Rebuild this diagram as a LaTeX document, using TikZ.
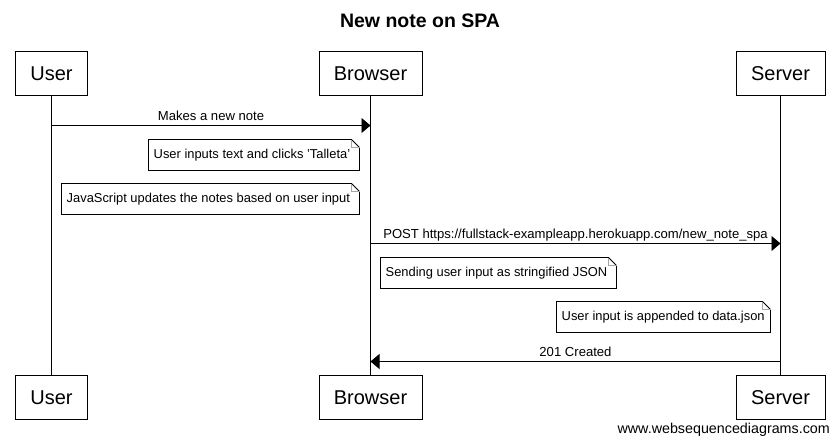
\documentclass[tikz,border=0pt]{standalone}
\usepackage{fontspec}
\setmainfont{Liberation Sans}
\usetikzlibrary{arrows.meta,calc}
\begin{document}
\begin{tikzpicture}[x=1pt,y=-1pt,
  actor/.style={draw,line width=0.9pt,minimum height=44pt,inner sep=0pt,font=\fontsize{20}{22}\selectfont},
  msg/.style={line width=0.9pt,-{Triangle[length=9pt,width=15pt]}},
  lbl/.style={font=\fontsize{13.1}{15}\selectfont,inner sep=0pt,anchor=base},
  notetext/.style={font=\fontsize{12.9}{15}\selectfont,inner sep=0pt,anchor=west},
  life/.style={line width=0.9pt}]
\useasboundingbox (0,0) rectangle (839,444);
\fill[white] (0,0) rectangle (839,444);
\node[font=\bfseries\fontsize{19.5}{22}\selectfont] (title) at (420,21) {New note on SPA};
% actors top
\node[actor,minimum width=72pt] (ut) at (51.5,73.5) {User};
\node[actor,minimum width=103pt] (bt) at (370.5,73.5) {Browser};
\node[actor,minimum width=89pt] (st) at (780.5,73.5) {Server};
% actors bottom
\node[actor,minimum width=72pt] (ub) at (51.5,397.5) {User};
\node[actor,minimum width=103pt] (bb) at (370.5,397.5) {Browser};
\node[actor,minimum width=89pt] (sb) at (780.5,397.5) {Server};
% lifelines
\draw[life] (ut.south) -- (ub.north);
\draw[life] (bt.south) -- (bb.north);
\draw[life] (st.south) -- (sb.north);
% message 1
\coordinate (m1a) at (ut.south |- 0,125.5);
\coordinate (m1b) at (bt.south |- 0,125.5);
\draw[msg] (m1a) -- (m1b);
\node[lbl] (l1) at ($(m1a)!0.5!(m1b)+(0,-5)$) {Makes a new note};
% notes
\newcommand{\notebox}[5]{% name, x1, y1, x2, y2
  \draw[line width=0.8pt,fill=white] (#2,#3) -- (#4-8,#3) -- (#4,#3+8) -- (#4,#5) -- (#2,#5) -- cycle;
  \draw[line width=0.7pt,draw=gray!70] (#4-8,#3) -- (#4-8,#3+8) -- (#4,#3+8);
  \coordinate (#1) at (#2,#3/2+#5/2);
}
\notebox{n1}{148.5}{139.5}{359.5}{170.5}
\node[notetext] (t1) at ($(n1)+(5,0.5)$) {User inputs text and clicks 'Talleta'};
\notebox{n2}{61.5}{183.5}{359.5}{214.5}
\node[notetext] (t2) at ($(n2)+(5,0.5)$) {JavaScript updates the notes based on user input};
% message 2
\coordinate (m2a) at (bt.south |- 0,243.5);
\coordinate (m2b) at (st.south |- 0,243.5);
\draw[msg] (m2a) -- (m2b);
\node[lbl] (l2) at ($(m2a)!0.5!(m2b)+(0,-5)$) {POST https://fullstack-exampleapp.herokuapp.com/new\_note\_spa};
\notebox{n3}{380.5}{257.5}{616.5}{288.5}
\node[notetext] (t3) at ($(n3)+(5,0.5)$) {Sending user input as stringified JSON};
\notebox{n4}{556.5}{301.5}{770.5}{332.5}
\node[notetext] (t4) at ($(n4)+(5,0.5)$) {User input is appended to data.json};
% message 3
\coordinate (m3a) at (st.south |- 0,361.5);
\coordinate (m3b) at (bt.south |- 0,361.5);
\draw[msg] (m3a) -- (m3b);
\node[lbl] (l3) at ($(m3a)!0.5!(m3b)+(0,-5)$) {201 Created};
% footer
\node[font=\fontsize{14.3}{16}\selectfont,inner sep=0pt,anchor=base east] (footer) at (830,433) {www.websequencediagrams.com};
\end{tikzpicture}
\end{document}
